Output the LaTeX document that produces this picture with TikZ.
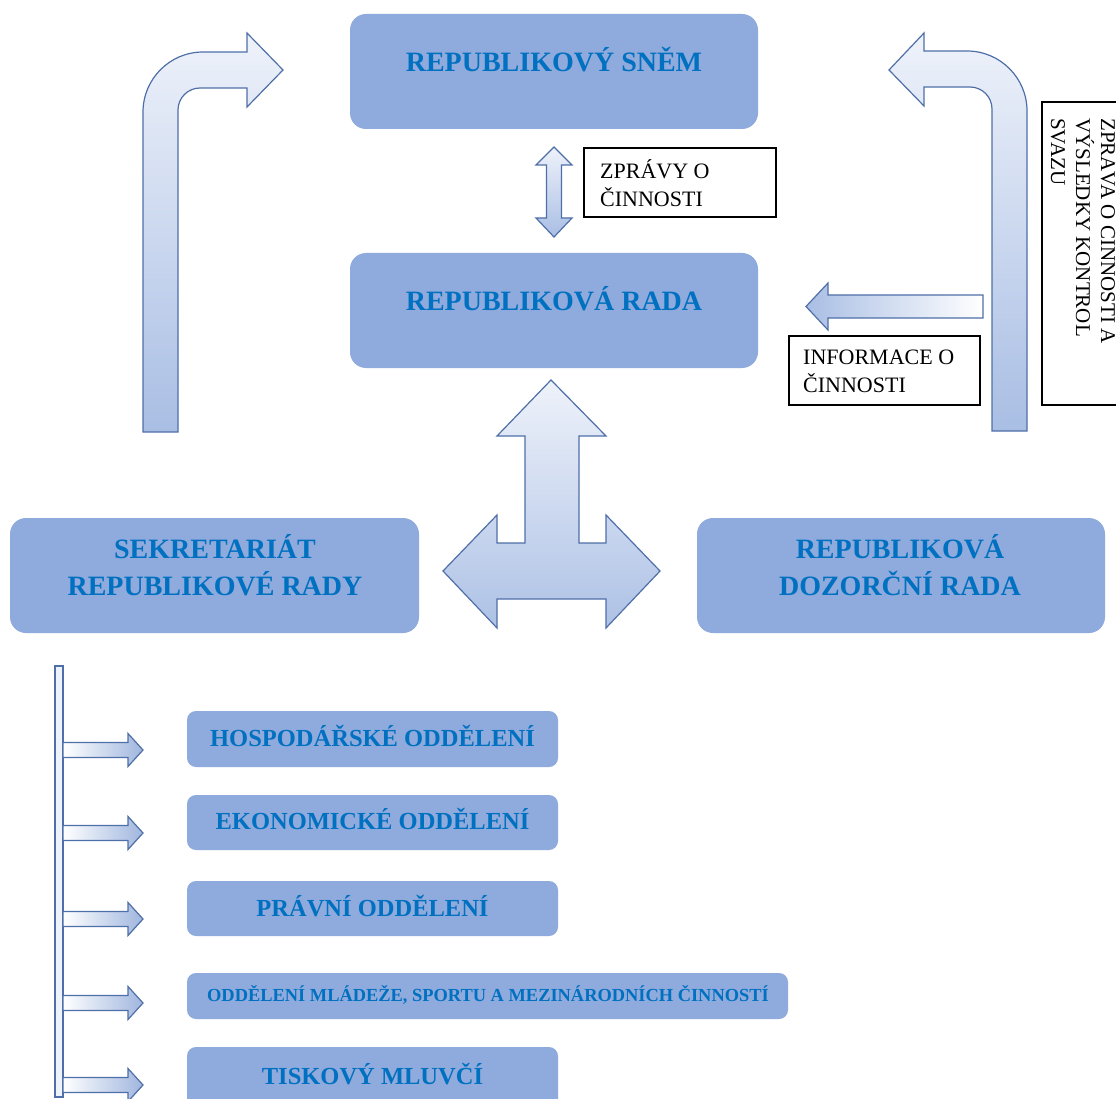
\documentclass[tikz,border=0pt]{standalone}
\usepackage{fontspec}
\setmainfont{Liberation Serif}
\definecolor{boxfill}{HTML}{8FAADC}
\definecolor{txtblue}{HTML}{0070C0}
\definecolor{arrline}{HTML}{4F6FA8}
\definecolor{arrlight}{HTML}{EEF2FA}
\definecolor{arrdark}{HTML}{A9BEE4}
\tikzset{
  bigbox/.style={fill=boxfill, draw=none, rounded corners=16pt, inner sep=0pt},
  smallbox/.style={fill=boxfill, draw=none, rounded corners=9pt, inner sep=0pt},
  lbl/.style={font=\bfseries\fontsize{28}{34}\selectfont, text=txtblue, inner sep=0pt, anchor=base},
  slbl/.style={font=\bfseries\fontsize{24.5}{30}\selectfont, text=txtblue, inner sep=0pt, anchor=base},
  fat/.style={draw=arrline, line width=1.2pt, line join=miter},
  vshade/.style={top color=arrlight, bottom color=arrdark},
  plainbox/.style={draw=black, line width=1.2pt, fill=white, inner sep=0pt},
  ptext/.style={font=\fontsize{22}{28}\selectfont, inner sep=0pt, anchor=base west},
  rtext/.style={font=\fontsize{21}{25}\selectfont, inner sep=0pt, anchor=base west, rotate=-90}
}
\begin{document}
\begin{tikzpicture}[x=1pt,y=1pt]
\useasboundingbox (0,0) rectangle (1116,-1099);
\clip (0,0) rectangle (1116,-1099);
\fill[white] (0,0) rectangle (1116,-1099);

% main boxes
\node[bigbox, minimum width=408pt, minimum height=115pt] (snem) at (554,-71.5) {};
\node[lbl] (snemt) at (554,-71.3) {REPUBLIKOVÝ SNĚM};
\node[bigbox, minimum width=408pt, minimum height=115pt] (rada) at (554,-310.5) {};
\node[lbl] (radat) at (554,-310.3) {REPUBLIKOVÁ RADA};
\node[bigbox, minimum width=409pt, minimum height=115pt] (sekr) at (214.5,-575.5) {};
\node[lbl] (sekr1) at (215,-558.3) {SEKRETARIÁT};
\node[lbl] (sekr2) at (215,-595.3) {REPUBLIKOVÉ RADY};
\node[bigbox, minimum width=408pt, minimum height=115pt] (dozor) at (901,-575.5) {};
\node[lbl] (dozor1) at (900,-558.3) {REPUBLIKOVÁ};
\node[lbl] (dozor2) at (900,-595.3) {DOZORČNÍ RADA};

% department boxes
\node[smallbox, minimum width=371pt, minimum height=56pt] (hosp) at (372.5,-739) {};
\node[slbl] (hospt) at (372.5,-746.1) {HOSPODÁŘSKÉ ODDĚLENÍ};
\node[smallbox, minimum width=371pt, minimum height=55pt] (ekon) at (372.5,-822.5) {};
\node[slbl] (ekont) at (372.5,-829.1) {EKONOMICKÉ ODDĚLENÍ};
\node[smallbox, minimum width=371pt, minimum height=55pt] (prav) at (372.5,-908.5) {};
\node[slbl] (pravt) at (372.5,-916.1) {PRÁVNÍ ODDĚLENÍ};
\node[smallbox, minimum width=601pt, minimum height=46pt] (mlad) at (487.5,-996) {};
\node[font=\bfseries\fontsize{18.4}{22}\selectfont, text=txtblue, inner sep=0pt, anchor=base] (mladt) at (488,-1001.2) {ODDĚLENÍ MLÁDEŽE, SPORTU A MEZINÁRODNÍCH ČINNOSTÍ};
\node[smallbox, minimum width=371pt, minimum height=70pt] (tisk) at (372.5,-1082) {};
\node[slbl] (tiskt) at (372.5,-1084.1) {TISKOVÝ MLUVČÍ};

% left bent arrow
\path[fat, vshade] (143,-432) -- (143,-112) arc[start angle=180, end angle=90, radius=60]
  -- (247,-52) -- (247,-33) -- (283,-70) -- (247,-107) -- (247,-88) -- (200,-88)
  arc[start angle=90, end angle=180, radius=22] -- (178,-432) -- cycle;

% right bent arrow
\path[fat, vshade] (1027,-431) -- (1027,-111) arc[start angle=0, end angle=90, radius=60]
  -- (924,-51) -- (924,-33) -- (889,-70) -- (924,-106) -- (924,-87) -- (970,-87)
  arc[start angle=90, end angle=0, radius=22] -- (992,-431) -- cycle;

% small double arrow
\path[fat, vshade] (554,-147) -- (572,-165) -- (561.5,-165) -- (561.5,-218) -- (572,-218)
  -- (554,-237) -- (536,-218) -- (546.5,-218) -- (546.5,-165) -- (536,-165) -- cycle;

% info arrow
\path[fat, left color=arrdark, right color=white] (806,-306.5) -- (828,-283) -- (828,-295)
  -- (983,-295) -- (983,-318) -- (828,-318) -- (828,-330) -- cycle;

% three-way arrow
\path[fat, top color=arrlight, bottom color=arrdark!95!white] (551,-380) -- (606,-436) -- (579,-436) -- (579,-543)
  -- (606,-543) -- (606,-515) -- (660,-571) -- (606,-628) -- (606,-599) -- (497,-599)
  -- (497,-628) -- (443,-571) -- (497,-515) -- (497,-543) -- (525,-543) -- (525,-436)
  -- (497,-436) -- cycle;

% text boxes
\draw[plainbox] (584,-148) rectangle (776,-217);
\node[ptext] (zpr1) at (600,-178.5) {ZPRÁVY O};
\node[ptext] (zpr2) at (600,-206.5) {ČINNOSTI};
\draw[plainbox] (789,-336) rectangle (980,-405);
\node[ptext] (inf1) at (803,-364.5) {INFORMACE O};
\node[ptext] (inf2) at (803,-392.5) {ČINNOSTI};
\draw[plainbox] (1042,-102) rectangle (1130,-405);
\node[rtext] (rot1) at (1101,-118) {ZPRÁVA O ČINNOSTI A};
\node[rtext] (rot2) at (1076,-118) {VÝSLEDKY KONTROL};
\node[rtext] (rot3) at (1051,-118) {SVAZU};

% bracket bar and small arrows
\path[fat, fill=arrlight] (55,-666) rectangle (63,-1097);
\foreach \c/\n in {750/a1, 833/a2, 919/a3, 1003/a4, 1085/a5}{
  \path[fat, left color=white, right color=arrdark!90!arrline] (63,-\c+7.5) -- (128,-\c+7.5) -- (128,-\c+16.5)
    -- (143,-\c) -- (128,-\c-16.5) -- (128,-\c-7.5) -- (63,-\c-7.5) -- cycle;
}
\end{tikzpicture}
\end{document}
